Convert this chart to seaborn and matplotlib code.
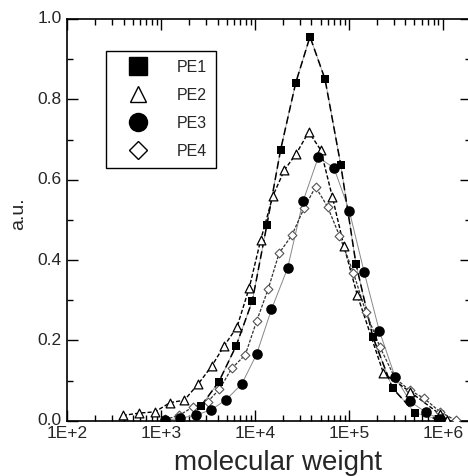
import numpy as np
import matplotlib
matplotlib.use("Agg")
import matplotlib.pyplot as plt
from matplotlib.lines import Line2D
from matplotlib.ticker import LogLocator, FuncFormatter, MultipleLocator, NullFormatter
import seaborn as sns

# Molecular weight distributions (normalised detector response)
pe1_mw = [2670, 4110, 6300, 9380, 13400, 18800, 27200, 38600, 55800, 82000,
          119000, 180000, 292000, 507000, 902000]
pe1_au = [0.037, 0.096, 0.186, 0.298, 0.487, 0.675, 0.841, 0.956, 0.850, 0.637,
          0.391, 0.209, 0.081, 0.020, 0.003]

pe2_mw = [391, 587, 863, 1250, 1770, 2480, 3470, 4690, 6440, 8710, 11500, 15500,
          20600, 27600, 37400, 50200, 66800, 88400, 123000, 233000, 448000,
          935000, 1120000]
pe2_au = [0.013, 0.019, 0.022, 0.045, 0.051, 0.091, 0.136, 0.186, 0.233, 0.331,
          0.449, 0.559, 0.624, 0.665, 0.719, 0.674, 0.557, 0.436, 0.313, 0.119,
          0.072, 0.016, 0.002]

pe3_mw = [1100, 1610, 2360, 3410, 4920, 7230, 10400, 15000, 22300, 32500, 47300,
          69500, 101000, 146000, 211000, 310000, 449000, 659000, 935000]
pe3_au = [0.001, 0.006, 0.014, 0.027, 0.052, 0.091, 0.165, 0.277, 0.380, 0.546,
          0.656, 0.629, 0.523, 0.369, 0.224, 0.110, 0.048, 0.021, 0.003]

pe4_mw = [1100, 1560, 2210, 3130, 4180, 5660, 7900, 10400, 13900, 18100, 24800,
          33500, 44200, 59300, 79300, 112000, 152000, 215000, 310000, 443000,
          632000, 935000, 1370000]
pe4_au = [0.003, 0.013, 0.035, 0.047, 0.078, 0.130, 0.164, 0.247, 0.329, 0.417,
          0.462, 0.530, 0.582, 0.533, 0.461, 0.368, 0.270, 0.183, 0.106, 0.076,
          0.056, 0.022, 0.001]

labels = ["PE1", "PE2", "PE3", "PE4"]

sns.set_theme(style="ticks")
plt.rcParams["font.family"] = ["Liberation Sans", "DejaVu Sans"]

fig = plt.figure(figsize=(4.68, 4.76), dpi=100)
ax_left, ax_right, ax_top, ax_bottom = 67.1, 471.0, 19.0, 420.7
ax = fig.add_axes([ax_left / 468, 1 - ax_bottom / 476,
                   (ax_right - ax_left) / 468, (ax_bottom - ax_top) / 476])

# connecting curves
sns.lineplot(x=pe3_mw, y=pe3_au, ax=ax, color="#888888", lw=0.7, sort=False)
sns.lineplot(x=pe1_mw, y=pe1_au, ax=ax, color="#999999", lw=0.6, sort=False)
sns.lineplot(x=pe1_mw, y=pe1_au, ax=ax, color="black", lw=1.1,
             linestyle=(0, (5, 2.5)), sort=False)
sns.lineplot(x=pe2_mw, y=pe2_au, ax=ax, color="black", lw=1.0,
             linestyle=(0, (3, 1.5)), sort=False)
sns.lineplot(x=pe4_mw, y=pe4_au, ax=ax, color="#333333", lw=0.9,
             linestyle=(0, (2.5, 1.2)), sort=False)

# symbols
sns.scatterplot(x=pe4_mw, y=pe4_au, ax=ax, marker="D", s=20, facecolor="white",
                edgecolor="#555555", linewidth=0.8, zorder=5)
sns.scatterplot(x=pe2_mw, y=pe2_au, ax=ax, marker="^", s=40, facecolor="white",
                edgecolor="black", linewidth=0.9, zorder=6)
sns.scatterplot(x=pe3_mw, y=pe3_au, ax=ax, marker="o", s=58, color="black",
                edgecolor="black", linewidth=0, zorder=7)
sns.scatterplot(x=pe1_mw, y=pe1_au, ax=ax, marker="s", s=40, color="black",
                edgecolor="black", linewidth=0, zorder=8)

ax.set_xscale("log")
ax.set_xlim(1e2, 2e6)
ax.set_ylim(0, 1.0)

ax.xaxis.set_major_locator(LogLocator(base=10, numticks=10))
ax.xaxis.set_minor_locator(LogLocator(base=10, subs=np.arange(2, 10), numticks=100))
ax.xaxis.set_major_formatter(FuncFormatter(lambda v, p: "1E+%d" % round(np.log10(v))))
ax.xaxis.set_minor_formatter(NullFormatter())
ax.yaxis.set_major_locator(MultipleLocator(0.2))
ax.yaxis.set_minor_locator(MultipleLocator(0.1))
ax.yaxis.set_major_formatter(FuncFormatter(lambda v, p: "%.1f" % v))

ax.tick_params(which="both", direction="in", top=True, right=True,
               color="black", width=1.0)
ax.tick_params(which="major", length=8, labelsize=12.5)
ax.tick_params(axis="x", which="major", pad=4)
ax.tick_params(axis="y", which="major", pad=4)
for lab in ax.get_yticklabels():
    lab.set_verticalalignment("center")
for sp in ax.spines.values():
    sp.set_color("black")
    sp.set_linewidth(1.2)
    sp.set_visible(True)

ax.set_xlabel("molecular weight", fontsize=20)
ax.xaxis.set_label_coords((277.5 - ax_left) / (ax_right - ax_left), -0.073)
ax.set_ylabel("a.u.", fontsize=14)
ax.yaxis.set_label_coords((27 - ax_left) / (ax_right - ax_left),
                          (ax_bottom - 214) / (ax_bottom - ax_top))
ax.set_facecolor("white")
fig.patch.set_facecolor("white")

handles = [
    Line2D([], [], ls="none", marker="s", ms=12.5, mfc="black", mec="black"),
    Line2D([], [], ls="none", marker="^", ms=11.5, mfc="white", mec="black", mew=1.0),
    Line2D([], [], ls="none", marker="o", ms=13, mfc="black", mec="black"),
    Line2D([], [], ls="none", marker="D", ms=9.5, mfc="white", mec="black", mew=1.0),
]
leg = ax.legend(handles, labels, loc="upper left",
                bbox_to_anchor=((106 - ax_left) / (ax_right - ax_left),
                                (ax_bottom - 51) / (ax_bottom - ax_top)),
                frameon=True, fancybox=False, edgecolor="black", framealpha=1,
                fontsize=11.5, handletextpad=1.0, borderpad=0.55,
                labelspacing=0.82, handlelength=2.9, borderaxespad=0)
leg.get_frame().set_linewidth(1.0)

fig.savefig("out.png", dpi=100)
